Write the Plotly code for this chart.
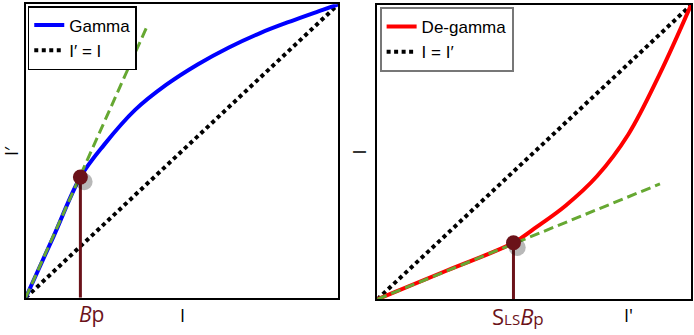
import plotly.graph_objects as go

# ---- data ----
# Left panel: gamma curve (I -> I')
gamma_in = [0, 0.09, 0.175, 0.25, 0.35, 0.45, 0.55, 0.65, 0.75, 0.85, 0.95, 1.0]
gamma_out = [0, 0.211, 0.411, 0.520, 0.640, 0.726, 0.795, 0.853, 0.902, 0.943, 0.981, 1.0]
identity = [0, 1]
tangent_left_x = [0, 0.387]
tangent_left_y = [0, 0.922]
bp_left = (0.175, 0.411)

# Right panel: de-gamma curve (I' -> I)
degamma_in = [0, 0.22, 0.434, 0.5, 0.6, 0.7, 0.8, 0.9, 1.0]
degamma_out = [0, 0.097, 0.192, 0.240, 0.318, 0.418, 0.560, 0.765, 1.0]
tangent_right_x = [0, 0.901]
tangent_right_y = [0, 0.392]
bp_right = (0.434, 0.192)

# ---- styles ----
BLUE = "#0000ff"
RED = "#ff0000"
GREEN = "#66a832"
MAROON = "#6b1219"
FONT = "Liberation Sans"

fig = go.Figure()

def add_panel(xa, ya, cx, cy, name, color, legend, id_name, tx, ty, bp):
    # identity dotted line
    fig.add_trace(go.Scatter(x=identity, y=identity, mode="lines", name=id_name,
                             line=dict(color="black", width=4, dash="4px,3.5px"),
                             xaxis=xa, yaxis=ya, legend=legend, legendrank=2))
    # main curve
    fig.add_trace(go.Scatter(x=cx, y=cy, mode="lines", name=name,
                             line=dict(color=color, width=4, shape="spline", smoothing=1.0),
                             xaxis=xa, yaxis=ya, legend=legend, legendrank=1))
    # tangent dashed green
    fig.add_trace(go.Scatter(x=tx, y=ty, mode="lines", showlegend=False,
                             line=dict(color=GREEN, width=3, dash="10px,5px"),
                             xaxis=xa, yaxis=ya))
    # vertical stem
    fig.add_trace(go.Scatter(x=[bp[0], bp[0]], y=[0, bp[1]], mode="lines", showlegend=False,
                             line=dict(color=MAROON, width=3),
                             xaxis=xa, yaxis=ya, cliponaxis=False))
    # shadow
    fig.add_trace(go.Scatter(x=[bp[0] + 0.012], y=[bp[1] - 0.016], mode="markers",
                             showlegend=False,
                             marker=dict(size=17, color="rgba(0,0,0,0.28)", line=dict(width=0)),
                             xaxis=xa, yaxis=ya, cliponaxis=False))
    # marker
    fig.add_trace(go.Scatter(x=[bp[0]], y=[bp[1]], mode="markers", showlegend=False,
                             marker=dict(size=15, color=MAROON, line=dict(width=0)),
                             xaxis=xa, yaxis=ya, cliponaxis=False))

add_panel("x", "y", gamma_in, gamma_out, "Gamma", BLUE, "legend", "I′ = I",
          tangent_left_x, tangent_left_y, bp_left)
add_panel("x2", "y2", degamma_in, degamma_out, "De-gamma", RED, "legend2", "I = I′",
          tangent_right_x, tangent_right_y, bp_right)

axis_common = dict(range=[0, 1], showgrid=False, zeroline=False, showticklabels=False,
                   ticks="", showline=True, linecolor="black", linewidth=2, mirror=True,
                   fixedrange=True)

fig.update_layout(
    width=694, height=335,
    margin=dict(l=0, r=0, t=0, b=0),
    paper_bgcolor="white", plot_bgcolor="white",
    xaxis=dict(domain=[0.0370, 0.4875], anchor="y", **axis_common),
    yaxis=dict(domain=[0.1113, 0.9872], anchor="x", **axis_common),
    xaxis2=dict(domain=[0.5437, 0.9957], anchor="y2", **axis_common),
    yaxis2=dict(domain=[0.1066, 0.9851], anchor="x2", **axis_common),
    legend=dict(x=0.040, y=0.982, xanchor="left", yanchor="top",
                bgcolor="white", bordercolor="black", borderwidth=1.5,
                font=dict(family=FONT, size=17, color="black"),
                tracegroupgap=0, itemwidth=30),
    legend2=dict(x=0.547, y=0.979, xanchor="left", yanchor="top",
                 bgcolor="white", bordercolor="#777777", borderwidth=2,
                 font=dict(family=FONT, size=17, color="black"),
                 tracegroupgap=0, itemwidth=30),
    showlegend=True,
)

lab_font = dict(family="Open Sans", size=18, color="black")
mar_font = dict(family="Open Sans", size=21, color=MAROON)

annotations = [
    # axis titles
    dict(text="I", x=0.5, y=0, xref="x domain", yref="y domain", xanchor="center",
         yanchor="top", yshift=-3, showarrow=False, font=lab_font),
    dict(text="I′", x=11 / 694, y=0.5, xref="paper", yref="y domain", xanchor="center",
         yanchor="middle", textangle=-90, showarrow=False, font=lab_font),
    dict(text="I'", x=0.8, y=0, xref="x2 domain", yref="y2 domain", xanchor="center",
         yanchor="top", yshift=-2, showarrow=False, font=lab_font),
    dict(text="I", x=0, y=0.5, xref="x2 domain", yref="y2 domain", xanchor="right",
         yanchor="middle", xshift=-4, textangle=-90, showarrow=False, font=lab_font),
    # Bp labels
    dict(text="<i>B</i>p", x=bp_left[0], y=0, xref="x", yref="y", xanchor="left",
         yanchor="top", xshift=-3, yshift=0, showarrow=False, font=mar_font),
    dict(text="S<span style='font-size:15px'>LS</span><i>B</i><span style='font-size:17px'>p</span>",
         x=bp_right[0], y=0, xref="x2", yref="y2", xanchor="center",
         yanchor="top", xshift=5, yshift=0, showarrow=False,
         font=dict(family="Open Sans", size=22, color=MAROON)),
]
fig.update_layout(annotations=annotations)

fig.write_html("out.html")
